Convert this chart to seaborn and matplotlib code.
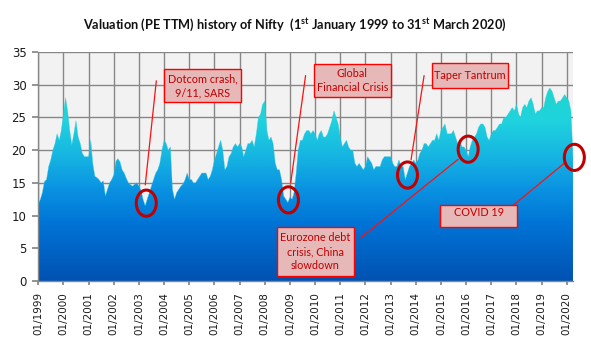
"""Nifty PE TTM valuation history, 1999 to March 2020."""

import matplotlib
matplotlib.use("Agg")
import matplotlib.dates as mdates
import matplotlib.pyplot as plt
import numpy as np
import pandas as pd
import seaborn as sns
from matplotlib.colors import LinearSegmentedColormap
from matplotlib.patches import Ellipse, Rectangle

# Monthly PE TTM, Jan 1999 .. Mar 2020 + 31 Mar 2020
pe_ttm = [
    11.8, 12.5, 13.5, 15.2, 15.5, 17.5, 18.5, 20.0, 21.0, 22.5, 21.5, 23.0,  # 1999
    25.5, 28.0, 26.0, 23.0, 20.8, 22.5, 24.5, 22.0, 21.0, 19.5, 19.0, 19.0,  # 2000
    19.0, 21.5, 18.0, 16.0, 15.8, 15.5, 15.0, 15.3, 13.0, 14.0, 15.0, 15.5,  # 2001
    16.2, 18.3, 18.7, 18.2, 17.0, 16.5, 15.7, 15.0, 14.7, 14.5, 14.8, 15.0,  # 2002
    14.5, 13.8, 12.5, 11.5, 12.5, 13.5, 14.5, 15.5, 16.5, 17.0, 18.0, 20.0,  # 2003
    21.5, 21.0, 20.0, 20.5, 14.0, 12.5, 13.5, 14.0, 14.5, 14.8, 15.5, 16.5,  # 2004
    15.5, 15.5, 15.0, 15.0, 15.5, 16.0, 16.5, 16.5, 16.5, 15.5, 16.0, 17.0,  # 2005
    18.5, 19.5, 20.5, 21.5, 20.0, 17.0, 17.5, 19.0, 19.5, 20.5, 21.0, 20.5,  # 2006
    21.0, 20.5, 19.0, 20.0, 21.0, 21.0, 21.5, 20.5, 22.5, 25.0, 25.5, 27.0,  # 2007
    27.5, 23.0, 21.5, 22.0, 21.0, 18.0, 17.0, 17.0, 15.5, 13.0, 12.5, 12.0,  # 2008
    12.8, 12.5, 13.5, 16.5, 20.0, 21.5, 21.5, 22.5, 23.0, 23.0, 22.5, 23.0,  # 2009
    22.5, 21.5, 22.5, 23.0, 22.0, 22.0, 22.5, 23.5, 24.5, 26.0, 25.0, 24.0,  # 2010
    22.0, 20.5, 21.0, 21.5, 20.5, 20.0, 20.0, 18.0, 17.5, 18.0, 17.5, 17.0,  # 2011
    17.5, 19.0, 18.5, 18.0, 17.0, 17.5, 17.5, 17.5, 18.5, 19.0, 19.0, 19.0,  # 2012
    19.0, 18.0, 17.5, 17.5, 18.5, 17.5, 17.5, 15.5, 16.5, 17.5, 18.0, 18.5,  # 2013
    18.0, 18.5, 19.5, 20.0, 21.0, 21.0, 20.5, 21.0, 21.5, 21.5, 22.5, 21.5,  # 2014
    23.0, 23.5, 24.0, 22.5, 22.5, 22.5, 23.0, 22.0, 21.0, 21.5, 20.5, 20.5,  # 2015
    20.0, 19.0, 20.5, 21.5, 22.0, 22.5, 23.5, 24.0, 24.0, 23.5, 22.0, 21.5,  # 2016
    22.5, 23.0, 23.0, 23.5, 24.0, 24.0, 25.0, 25.0, 25.5, 26.0, 26.5, 26.0,  # 2017
    27.0, 25.5, 25.0, 26.5, 27.0, 26.5, 27.5, 28.0, 27.0, 25.5, 26.0, 26.0,  # 2018
    26.5, 26.5, 28.0, 29.0, 29.5, 29.0, 28.0, 27.0, 27.5, 27.5, 28.0, 28.5,  # 2019
    28.0, 27.5, 26.0, 19.0,                                                  # 2020
]
dates = list(pd.date_range("1999-01-01", "2020-03-01", freq="MS")) + [pd.Timestamp("2020-03-31")]
year_ticks = pd.date_range("1999-01-01", "2020-01-01", freq="YS")
y_ticks = [0, 5, 10, 15, 20, 25, 30, 35]

# Event markers: (fractional year, PE) of the red rings
rings = [(2003.29, 11.9), (2008.94, 12.4), (2013.67, 16.2), (2016.08, 20.15), (2020.30, 18.9)]
# Callout boxes: label, (x0, x1) in years, (y0, y1) in PE
boxes = [
    ("Dotcom crash,\n9/11, SARS", (2004.01, 2007.04), (27.3, 32.4)),
    ("Global\nFinancial Crisis", (2009.94, 2013.01), (28.2, 33.1)),
    ("Taper Tantrum", (2014.64, 2017.67), (29.5, 33.3)),
    ("Eurozone debt\ncrisis, China\nslowdown", (2008.47, 2011.53), (0.76, 8.24)),
    ("COVID 19", (2014.97, 2018.04), (8.24, 11.6)),
]
# Leader lines: (x, y) start -> end in years / PE
leaders = [
    ((2003.69, 30.6), (2003.25, 14.7)),
    ((2009.62, 31.4), (2009.03, 15.0)),
    ((2014.33, 31.4), (2013.81, 18.5)),
    ((2011.81, 6.6), (2015.68, 18.6)),
    ((2017.31, 9.8), (2019.90, 18.0)),
]

BASE = mdates.date2num(pd.Timestamp("1999-01-01"))


def yr(f):
    return BASE + (f - 1999) * 365.25


sns.set_theme(style="white")
plt.rcParams["font.family"] = ["Lato", "DejaVu Sans"]
plt.rcParams["mathtext.fontset"] = "custom"
plt.rcParams["mathtext.rm"] = "Lato"
plt.rcParams["mathtext.bf"] = "Lato:bold"

fig = plt.figure(figsize=(5.91, 3.51), dpi=100)
ax = fig.add_axes([0.0648, 0.1994, 0.9047, 0.6523])
ax.set_facecolor("#F2F2F2")

df = pd.DataFrame({"date": dates, "pe": pe_ttm})
sns.lineplot(data=df, x="date", y="pe", ax=ax, color="#22CADC", linewidth=0.4, alpha=0.6, zorder=3)

# Gradient area: vertical gradient image clipped to the area polygon
cmap = LinearSegmentedColormap.from_list(
    "pe",
    [(0.0, "#0052B2"), (0.25, "#0074D6"), (0.4, "#0A92E2"),
     (0.55, "#16B6E2"), (0.7, "#20D2DE"), (0.85, "#1ED8CC"), (1.0, "#10D6B0")],
)
grad = np.linspace(0, 1, 256).reshape(-1, 1)
x0, x1 = mdates.date2num(dates[0]), mdates.date2num(dates[-1])
img = ax.imshow(grad, cmap=cmap, origin="lower", aspect="auto", extent=[x0, x1, 0, 35], zorder=2)
area = ax.fill_between(df["date"], df["pe"], 0, color="none", linewidth=0)
img.set_clip_path(area.get_paths()[0], ax.transData)

ax.set_xlim(x0, x1)
ax.set_ylim(0, 35)
ax.set_xticks(year_ticks)
ax.xaxis.set_major_formatter(mdates.DateFormatter("%m/%Y"))
ax.set_yticks(y_ticks)
ax.grid(True, color="#878787", linewidth=1)
ax.set_axisbelow(True)
ax.set_xlabel("")
ax.set_ylabel("")
for side in ["top", "right"]:
    ax.spines[side].set_visible(False)
for side in ["left", "bottom"]:
    ax.spines[side].set_color("#878787")
    ax.spines[side].set_linewidth(1)
ax.tick_params(axis="x", rotation=90, labelsize=7.5, length=3, pad=5, color="#878787",
               bottom=True, labelcolor="#1a1a1a")
ax.tick_params(axis="y", labelsize=8.5, length=4.5, pad=4, color="#878787",
               left=True, labelcolor="#1a1a1a")
for lab in ax.get_xticklabels() + ax.get_yticklabels():
    lab.set_fontfamily("DejaVu Sans")

# Annotations
for (a, b) in leaders:
    ax.plot([yr(a[0]), yr(b[0])], [a[1], b[1]], color="#FF1010", linewidth=0.9, zorder=4, clip_on=False)
for (f, v) in rings:
    ax.add_patch(Ellipse((yr(f), v), width=290, height=4.0, fill=False,
                         edgecolor="#C00000", linewidth=2.2, zorder=5, clip_on=False))
for label, (bx0, bx1), (by0, by1) in boxes:
    ax.add_patch(Rectangle((yr(bx0), by0), yr(bx1) - yr(bx0), by1 - by0, facecolor="#E6B8B7",
                           edgecolor="#FF0000", linewidth=1, zorder=6))
    ty = (by0 + by1) / 2 if "COVID" not in label else by1 - 1.2
    ax.text(yr((bx0 + bx1) / 2), ty, label, ha="center", va="center", fontsize=7.8,
            color="#C00000", linespacing=1.35, zorder=7)

fig.text(0.498, 1 - 25 / 351,
         r"Valuation (PE TTM) history of Nifty  (1$^{\mathbf{st}}$ January 1999 to 31$^{\mathbf{st}}$ March 2020)",
         ha="center", va="center", fontsize=9.2, fontweight="bold", color="#111111")

plt.savefig("out.png", dpi=100)
print("Generated: out.png")
